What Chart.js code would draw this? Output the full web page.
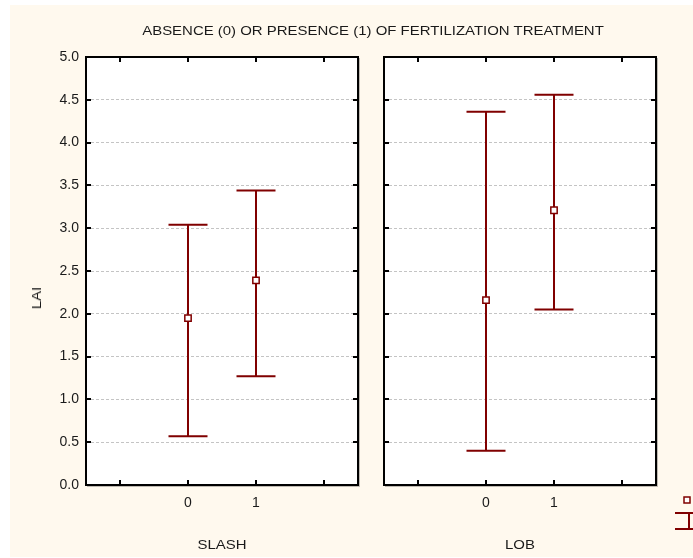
<!DOCTYPE html>
<html>
<head>
<meta charset="utf-8">
<script src="https://cdn.jsdelivr.net/npm/chart.js@4/dist/chart.umd.min.js"></script>
<style>
  body { margin: 0; background: #fff; }
  #wrap { position: relative; width: 693px; height: 558px; overflow: hidden; background: #fff; }
  #paper { position: absolute; left: 10px; top: 5px; width: 683px; height: 552px; background: #FFF9EE; }
  canvas { position: absolute; top: 0; }
  .txt { position: absolute; font-family: "Liberation Sans", Arial, sans-serif; font-size: 13px; line-height: 14px; color: #1a1a1a; white-space: nowrap; }
</style>
</head>
<body>
<div id="wrap">
  <div id="paper"></div>
  <canvas id="slash" width="372" height="558" style="left:0;width:372px;height:558px"></canvas>
  <canvas id="lob" width="323" height="558" style="left:370px;width:323px;height:558px"></canvas>
  <div class="txt" style="left:373px;top:24px;transform:translateX(-50%) scaleX(1.15)">ABSENCE (0) OR PRESENCE (1) OF FERTILIZATION TREATMENT</div>
  <div class="txt" style="left:37px;top:298px;transform:translate(-50%,-50%) rotate(-90deg) scaleX(1.15)">LAI</div>
  <div class="txt" style="left:222px;top:538px;transform:translateX(-50%) scaleX(1.15)">SLASH</div>
  <div class="txt" style="left:520px;top:538px;transform:translateX(-50%) scaleX(1.15)">LOB</div>
</div>
<script>
// fertilization levels
const categories = ['0', '1'];
const yTicks = [0, 0.5, 1, 1.5, 2, 2.5, 3, 3.5, 4, 4.5, 5];

// SLASH panel
const slashMean = [1.95, 2.39];
const slashLower = [0.57, 1.27];
const slashUpper = [3.04, 3.44];

// LOB panel
const lobMean = [2.16, 3.21];
const lobLower = [0.40, 2.05];
const lobUpper = [4.36, 4.56];

const dark = '#800000';
const font = { family: '"Liberation Sans", Arial, sans-serif', size: 14 };

// draws whisker lines + caps before the mean markers
const errorBars = {
  id: 'errorBars',
  beforeDatasetsDraw(chart, args, opts) {
    const ctx = chart.ctx, xs = chart.scales.x, ys = chart.scales.y;
    ctx.save();
    ctx.strokeStyle = dark;
    ctx.lineWidth = 2;
    opts.lower.forEach((lo, i) => {
      const x = Math.round(xs.getPixelForValue(i + 1));
      const y1 = ys.getPixelForValue(lo);
      const y2 = ys.getPixelForValue(opts.upper[i]);
      ctx.beginPath();
      ctx.moveTo(x, y1); ctx.lineTo(x, y2);
      ctx.moveTo(x - 19.5, y1); ctx.lineTo(x + 19.5, y1);
      ctx.moveTo(x - 19.5, y2); ctx.lineTo(x + 19.5, y2);
      ctx.stroke();
    });
    ctx.restore();
  }
};

// white plot area, black frame with inward ticks on all four sides
const frame = {
  id: 'frame',
  beforeDraw(chart) {
    const a = chart.chartArea;
    chart.ctx.fillStyle = '#fff';
    chart.ctx.fillRect(a.left, a.top, a.right - a.left, a.bottom - a.top);
  },
  afterDraw(chart, args, opts) {
    const ctx = chart.ctx, a = chart.chartArea, xs = chart.scales.x, ys = chart.scales.y;
    ctx.save();
    ctx.strokeStyle = 'rgba(0,0,0,0.25)';
    ctx.lineWidth = 1;
    ctx.beginPath();
    ctx.moveTo(a.right + 1.5, a.top + 1); ctx.lineTo(a.right + 1.5, a.bottom + 1.5); ctx.lineTo(a.left + 1, a.bottom + 1.5);
    ctx.stroke();
    ctx.strokeStyle = '#000';
    ctx.lineWidth = 2;
    ctx.strokeRect(a.left, a.top, a.right - a.left, a.bottom - a.top);
    ctx.beginPath();
    for (let i = 0; i < xs.ticks.length; i++) {
      const x = Math.round(xs.getPixelForTick(i));
      ctx.moveTo(x, a.top); ctx.lineTo(x, a.top + 5);
      ctx.moveTo(x, a.bottom); ctx.lineTo(x, a.bottom - 5);
    }
    yTicks.forEach(v => {
      const y = Math.round(ys.getPixelForValue(v));
      ctx.moveTo(a.left, y); ctx.lineTo(a.left + 5, y);
      ctx.moveTo(a.right, y); ctx.lineTo(a.right - 5, y);
    });
    ctx.stroke();
    if (opts.legendGlyph) {
      // clipped legend sample at the lower right
      ctx.strokeStyle = dark;
      ctx.fillStyle = '#fff';
      ctx.lineWidth = 1.5;
      ctx.fillRect(314, 497, 6, 6);
      ctx.strokeRect(314, 497, 6, 6);
      ctx.lineWidth = 2;
      ctx.beginPath();
      ctx.moveTo(305, 513); ctx.lineTo(325, 513);
      ctx.moveTo(305, 529); ctx.lineTo(325, 529);
      ctx.moveTo(319, 513); ctx.lineTo(319, 529);
      ctx.stroke();
    }
    ctx.restore();
  }
};

function makePanel(id, mean, lower, upper, showY, pad) {
  return new Chart(document.getElementById(id), {
    type: 'line',
    data: {
      labels: ['', ...categories, ''],
      datasets: [{
        data: [null, ...mean, null],
        showLine: false,
        pointStyle: 'rect',
        pointRadius: 4.5,
        pointBackgroundColor: '#fff',
        pointBorderColor: dark,
        pointBorderWidth: 1.5
      }]
    },
    options: {
      responsive: false,
      animation: false,
      events: [],
      layout: { padding: pad },
      plugins: {
        legend: { display: false },
        tooltip: { enabled: false },
        errorBars: { lower, upper },
        frame: { legendGlyph: !showY }
      },
      scales: {
        x: {
          type: 'category',
          offset: true,
          grid: { display: false, drawTicks: false },
          border: { display: false },
          ticks: { font, color: '#1a1a1a', padding: 10, maxRotation: 0, autoSkip: false },
          afterFit: s => { s.height = 73; }
        },
        y: {
          min: 0,
          max: 5,
          afterBuildTicks: s => { s.ticks = yTicks.map(v => ({ value: v })); },
          grid: { color: '#c4c4c4', lineWidth: 1, drawTicks: false },
          border: { display: false, dash: [3, 2] },
          ticks: { display: showY, font, color: '#1a1a1a', padding: 7, callback: v => v.toFixed(1) },
          afterFit: s => { s.width = showY ? 86 : 14; }
        }
      }
    },
    plugins: [errorBars, frame]
  });
}

makePanel('slash', slashMean, slashLower, slashUpper, true, { top: 57, right: 14, left: 0, bottom: 0 });
makePanel('lob', lobMean, lobLower, lobUpper, false, { top: 57, right: 37, left: 0, bottom: 0 });
</script>
</body>
</html>
